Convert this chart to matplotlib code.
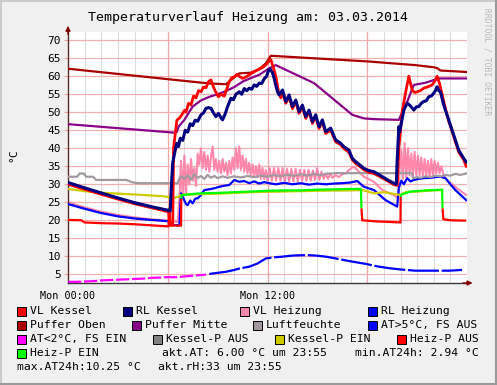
import numpy as np
import matplotlib
matplotlib.use('Agg')
import matplotlib.pyplot as plt
from matplotlib.patches import Rectangle
from matplotlib.lines import Line2D

plt.rcParams['font.family'] = ['DejaVu Sans Mono', 'DejaVu Sans']

# ---------------- data (time in hours since Mon 00:00) ----------------
vlk_t = [0, 1, 2, 3, 4, 5, 6.0, 6.05, 6.15, 6.3, 6.35, 6.45, 6.55, 6.7, 6.85, 7.0, 7.1, 7.25, 7.4,
         7.55, 7.7, 7.85, 8.0, 8.15, 8.3, 8.45, 8.6, 8.75, 8.9, 9.05, 9.2, 9.4, 9.55, 9.7, 9.85,
         10.0, 10.15, 10.3, 10.5, 10.7, 10.9, 11.1, 11.3, 11.5, 11.7, 11.9, 12.05, 12.2, 12.35,
         12.5, 12.65, 12.8, 12.9, 13.1, 13.3, 13.5, 13.7, 13.9, 14.1, 14.3, 14.5, 14.7, 14.9,
         15.1, 15.3, 15.5, 15.8, 16.1, 16.4, 16.6, 16.9, 17.1, 17.3, 17.6, 17.8, 18.1, 18.4,
         18.8, 19.2, 19.6, 19.8, 19.9, 20.0, 20.1, 20.3, 20.5, 20.6, 20.7, 20.85, 21.0, 21.2,
         21.4, 21.6, 21.9, 22.05, 22.2, 22.35, 22.5, 22.7, 22.9, 23.2, 23.5, 23.8, 23.95]
vlk_v = [30.0, 28.6, 27.2, 25.9, 24.6, 23.5, 22.4, 22.3, 18.6, 18.6, 40.0, 44.0, 47.8, 48.4, 49.3,
         50.5, 50.0, 52.5, 52.0, 54.5, 54.0, 56.0, 55.7, 57.0, 56.8, 58.5, 59.0, 57.0, 55.5, 54.3,
         55.0, 54.5, 56.5, 58.5, 59.6, 59.8, 60.5, 60.0, 59.4, 59.8, 60.4, 61.0, 61.5, 62.0,
         62.4, 63.2, 64.0, 64.6, 62.5, 60.0, 56.0, 54.0, 55.6, 52.5, 54.3, 51.0, 52.9, 49.7,
         51.5, 48.3, 50.1, 46.9, 48.8, 45.5, 47.4, 44.1, 45.0, 41.8, 41.0, 39.9, 38.9, 36.8,
         35.8, 34.8, 34.0, 33.3, 33.0, 32.0, 31.0, 29.9, 29.7, 40.0, 45.0, 50.2, 55.3, 60.0,
         58.1, 56.2, 55.5, 55.7, 56.0, 56.7, 57.0, 57.6, 58.5, 60.0, 58.0, 55.0, 51.0, 47.5,
         43.3, 39.0, 36.8, 35.0]

rlk_t = [0, 1, 2, 3, 4, 5, 6.0, 6.15, 6.2, 6.3, 6.45, 6.55, 6.65, 6.75, 6.9, 7.05, 7.2, 7.35, 7.5,
         7.65, 7.8, 8.0, 8.15, 8.3, 8.45, 8.6, 8.75, 8.9, 9.05, 9.2, 9.3, 9.45, 9.6, 9.8, 9.95,
         10.1, 10.3, 10.45, 10.6, 10.75, 10.9, 11.05, 11.2, 11.35, 11.5, 11.65, 11.8, 11.95,
         12.05, 12.15, 12.3, 12.4, 12.5, 12.6, 12.7, 12.9, 13.1, 13.3, 13.5, 13.7, 13.9, 14.1,
         14.3, 14.5, 14.7, 14.9, 15.1, 15.3, 15.5, 15.8, 16.1, 16.4, 16.6, 16.9, 17.1, 17.3,
         17.6, 17.8, 18.1, 18.4, 18.8, 19.2, 19.6, 19.75, 19.8, 19.9, 19.95, 20.05, 20.2, 20.4,
         20.55, 20.8, 20.95, 21.1, 21.25, 21.4, 21.55, 21.7, 21.85, 22.0, 22.1, 22.2, 22.3,
         22.4, 22.6, 22.9, 23.2, 23.5, 23.8, 23.95]
rlk_v = [30.5, 29.0, 27.6, 26.2, 24.9, 23.8, 22.8, 22.6, 28.0, 36.0, 39.5, 41.4, 40.5, 42.8, 42.2,
         45.0, 44.5, 46.8, 46.3, 47.8, 47.5, 49.3, 49.8, 51.1, 51.3, 51.1, 49.8, 48.8, 49.7,
         48.5, 47.9, 49.5, 51.6, 53.9, 53.5, 55.0, 55.7, 55.0, 56.6, 56.0, 56.7, 56.4, 57.6,
         57.2, 58.1, 58.0, 59.3, 60.0, 61.5, 62.0, 61.0, 59.4, 57.5, 55.7, 54.8, 56.2, 53.0,
         54.8, 51.6, 53.4, 50.2, 52.0, 48.8, 50.6, 47.4, 49.3, 46.0, 47.9, 44.6, 45.6, 42.3,
         41.4, 40.4, 39.5, 37.2, 36.3, 35.2, 34.4, 33.8, 33.5, 32.4, 31.3, 30.3, 30.0, 36.8,
         46.0, 44.6, 47.0, 50.6, 52.5, 52.0, 50.6, 51.5, 51.6, 52.5, 53.0, 53.2, 54.3, 54.5,
         55.3, 56.0, 57.1, 56.0, 55.7, 52.0, 47.9, 43.7, 39.5, 37.2, 36.2]

vlh_t = [0, 1, 2, 3, 4, 5, 6.0, 6.6, 6.7, 6.8, 6.9, 7.0, 7.1, 7.2, 7.3, 7.4, 7.5, 7.6, 7.7, 7.8,
         7.9, 8.0, 8.1, 8.2, 8.3, 8.4, 8.5, 8.6, 8.7, 8.8, 8.9, 9.0, 9.1, 9.2, 9.3, 9.4, 9.5,
         9.6, 9.7, 9.8, 9.9, 10.0, 10.1, 10.2, 10.3, 10.4, 10.5, 10.6, 10.7, 10.8, 10.9, 11.0,
         11.1, 11.2, 11.3, 11.4, 11.5, 11.6, 11.7, 11.8, 11.9, 12.0, 12.13, 12.26, 12.39, 12.52,
         12.65, 12.78, 12.91, 13.04, 13.17, 13.3, 13.43, 13.56, 13.69, 13.82, 13.95, 14.08,
         14.21, 14.34, 14.47, 14.6, 14.73, 14.86, 14.99, 15.12, 15.25, 15.38, 15.51, 15.64,
         15.77, 15.9, 16.1, 16.3, 16.5, 16.7, 16.9, 17.2, 17.6, 17.8, 18.4, 18.9, 19.6, 19.85,
         19.95, 20.05, 20.15, 20.25, 20.35, 20.45, 20.55, 20.65, 20.75, 20.85, 20.95, 21.05,
         21.15, 21.25, 21.35, 21.45, 21.55, 21.65, 21.75, 21.85, 21.95, 22.05, 22.15, 22.25,
         22.35, 22.45, 22.6, 22.8, 23.1, 23.4, 23.95]
vlh_v = [25.0, 23.6, 22.4, 21.5, 20.8, 20.3, 19.9, 19.5, 26.0, 36.5, 26.0, 38.0, 27.5, 35.5, 30.0,
         37.0, 31.0, 34.5, 29.5, 38.5, 35.5, 40.0, 34.5, 39.0, 34.0, 38.0, 33.5, 37.5, 40.5,
         34.0, 37.0, 33.5, 36.5, 33.0, 37.0, 33.5, 36.0, 32.5, 36.5, 33.0, 37.5, 34.0, 40.0,
         34.5, 40.5, 34.0, 38.0, 33.5, 37.0, 33.0, 36.0, 32.5, 35.5, 32.0, 35.0, 32.0, 35.5,
         31.5, 34.5, 31.5, 34.0, 31.0, 34.5, 31.0, 34.5, 31.0, 34.5, 31.0, 34.5, 30.8, 34.3,
         30.8, 34.3, 30.8, 34.3, 30.8, 34.0, 31.0, 34.0, 31.0, 34.0, 31.0, 33.8, 31.2, 34.5,
         31.2, 33.5, 31.5, 33.0, 31.5, 33.0, 31.8, 32.5, 32.0, 32.8, 33.0, 34.0, 34.9, 33.0,
         32.1, 30.7, 28.4, 27.0, 26.1, 34.0, 39.5, 31.5, 41.5, 32.0, 40.0, 32.5, 38.5, 32.0,
         39.0, 32.5, 38.0, 32.5, 37.5, 32.0, 37.0, 32.5, 36.5, 32.0, 37.0, 32.5, 36.5, 33.0,
         36.0, 33.0, 35.0, 32.5, 31.2, 30.0, 28.9, 27.0]

rlh_t = [0, 1, 2, 3, 4, 5, 5.9, 6.15, 6.25, 6.7, 6.8, 6.95, 7.1, 7.2, 7.35, 7.5, 7.65, 7.8, 8.0,
         8.2, 8.5, 8.8, 9.1, 9.4, 9.7, 10.0, 10.3, 10.6, 10.9, 11.2, 11.5, 11.8, 12.1, 12.5,
         13.0, 13.5, 14.0, 14.5, 15.0, 15.5, 16.0, 16.5, 17.0, 17.4, 17.8, 18.4, 19.1, 19.8,
         19.9, 20.05, 20.2, 20.4, 20.6, 20.8, 21.1, 21.4, 21.8, 22.1, 22.4, 22.7, 23.0, 23.3,
         23.95]
rlh_v = [24.5, 23.2, 22.0, 21.1, 20.5, 20.1, 19.8, 19.6, 18.7, 18.6, 27.5, 26.0, 24.5, 24.2, 25.5,
         24.7, 26.0, 26.1, 27.0, 28.4, 28.6, 28.9, 29.3, 29.6, 29.8, 31.2, 30.7, 30.9, 30.3,
         30.8, 30.2, 30.6, 30.3, 30.0, 30.4, 30.0, 30.3, 29.9, 30.2, 30.0, 30.2, 30.3, 30.5,
         30.9, 29.3, 28.4, 25.6, 23.8, 29.0, 31.0, 30.0, 31.7, 30.8, 31.2, 31.5, 31.7, 31.8,
         32.0, 32.1, 31.7, 30.0, 28.4, 25.6]

po_t = [0, 8.5, 9.5, 10.3, 11.0, 11.5, 11.9, 12.2, 18.1, 20.9, 22.0, 22.2, 22.4, 23.95]
po_v = [62.1, 58.0, 57.8, 60.8, 61.0, 62.0, 63.6, 65.7, 64.1, 63.1, 62.5, 62.3, 61.6, 61.2]

pm_t = [0, 6.5, 6.55, 6.65, 7.0, 7.5, 8.0, 8.5, 9.0, 9.4, 10.0, 10.5, 11.0, 11.5, 12.1, 12.5,
        14.8, 17.1, 17.8, 18.4, 19.9, 20.4, 20.8, 21.5, 22.3, 23.95]
pm_v = [46.7, 44.3, 44.6, 46.0, 47.9, 51.6, 53.3, 54.3, 55.0, 55.7, 57.0, 58.5, 59.5, 60.4,
        62.2, 63.1, 58.1, 49.3, 48.3, 48.1, 47.9, 52.9, 57.6, 58.2, 59.4, 59.4]

rh_t = [0, 0.55, 0.7, 0.95, 1.1, 1.5, 1.7, 3.5, 3.9, 4.3, 6.6, 6.7, 6.8, 7.0, 7.2, 7.4, 7.6, 7.8,
        8.0, 8.2, 8.4, 8.6, 8.8, 9.0, 9.3, 9.6, 10.0, 10.4, 10.8, 11.2, 11.6, 12.0, 12.4, 12.8,
        13.2, 13.6, 14.0, 14.4, 14.8, 15.2, 15.6, 16.0, 16.05, 20.7, 20.75, 21.0, 21.2, 21.5,
        21.8, 22.1, 22.4, 22.7, 23.0, 23.3, 23.6, 23.95]
rh_v = [32.1, 32.1, 33.0, 33.0, 32.1, 32.1, 31.2, 31.2, 30.5, 30.3, 30.3, 31.7, 32.3, 31.5, 32.5,
        31.3, 32.8, 31.8, 32.3, 31.5, 32.6, 31.8, 32.3, 31.7, 32.2, 31.8, 32.2, 31.9, 32.3,
        32.0, 32.4, 32.1, 32.6, 32.2, 32.7, 32.3, 32.8, 32.4, 32.9, 32.5, 33.0, 33.0, 33.1,
        33.1, 31.7, 32.0, 31.8, 32.2, 32.0, 32.4, 32.2, 32.6, 32.4, 32.9, 32.6, 33.0]

kp_t = [0, 1, 1.9, 3, 3.9, 5, 5.9, 6.3, 6.6, 6.8, 7.5, 9, 11, 13, 15, 17, 17.7, 18.4, 19, 20.0,
        20.3, 21, 22, 22.5]
kp_v = [28.7, 28.1, 27.7, 27.4, 27.2, 26.9, 26.6, 26.1, 26.5, 27.0, 27.2, 27.4, 27.8, 28.0, 28.2,
        28.3, 28.4, 27.5, 27.8, 27.0, 27.8, 28.0, 28.3, 28.4]

hp_t = [0, 0.8, 1.0, 2, 3, 4, 5, 6.05, 6.06, 6.12, 6.13, 6.8, 6.81, 6.85, 7.5, 8, 9, 10, 11, 12,
        13, 14, 15, 16, 17, 17.62, 17.65, 17.7, 18.5, 20.0, 20.01, 20.05, 20.3, 20.6, 21.0,
        21.5, 22.0, 22.5, 22.53, 22.58, 23.0, 23.95]
hp_v = [20.1, 20.0, 19.4, 19.2, 19.1, 18.9, 18.6, 18.3, 22.4, 23.6, 18.6, 18.5, 26.0, 27.0, 27.3,
        27.5, 27.6, 27.8, 28.0, 28.2, 28.3, 28.3, 28.5, 28.6, 28.7, 28.7, 23.3, 20.0, 19.7,
        19.4, 26.5, 27.2, 27.5, 28.0, 28.1, 28.3, 28.4, 28.5, 23.3, 20.3, 20.0, 19.9]
hp_on = [0, 0, 0, 0, 0, 0, 0, 0, 1, 0, 0, 0, 1, 1, 1, 1, 1, 1, 1, 1, 1, 1, 1, 1, 1, 1, 0, 0, 0,
         0, 1, 1, 1, 1, 1, 1, 1, 1, 0, 0, 0, 0]

at_t = [0, 0.5, 1, 1.5, 2, 2.5, 3, 3.5, 4, 4.5, 5, 5.5, 6, 6.5, 7, 7.5, 8, 8.3,
        8.5, 9.0, 9.5, 10.0, 10.3, 10.9, 11.4, 11.9, 12.4, 12.9, 13.5, 14.1, 14.5, 14.9, 15.5,
        16.1, 17.0, 17.9, 18.6, 19.3, 20.1, 20.9, 21.5, 22.1, 22.9, 23.7]
at_v = [2.9, 2.9, 3.0, 3.1, 3.3, 3.4, 3.5, 3.6, 3.7, 3.8, 4.0, 4.1, 4.2, 4.2, 4.4, 4.6, 4.8, 4.9,
        5.1, 5.4, 5.7, 6.2, 6.6, 7.1, 8.0, 9.4, 9.7, 9.9, 10.2, 10.3, 10.3, 10.2, 9.9,
        9.4, 8.6, 7.9, 7.2, 6.7, 6.3, 6.0, 6.0, 6.0, 6.0, 6.2]
at_cold = [1] * 18 + [0] * 26

y_ticks = list(range(5, 71, 5))
x_tick_pos = [0, 12]
x_tick_lab = ['Mon 00:00', 'Mon 12:00']
title = 'Temperaturverlauf Heizung am: 03.03.2014'

legend_rows = [
    [(17, 'VL Kessel', '#ff0000'), (123, 'RL Kessel', '#000080'),
     (240, 'VL Heizung', '#ff88aa'), (368, 'RL Heizung', '#0000ff')],
    [(17, 'Puffer Oben', '#aa0000'), (132, 'Puffer Mitte', '#880088'),
     (253, 'Luftfeuchte', '#a0969e'), (368, 'AT>5°C, FS AUS', '#0000ff')],
    [(17, 'AT<2°C, FS EIN', '#ff00ff'), (153, 'Kessel-P AUS', '#808080'),
     (275, 'Kessel-P EIN', '#cccc00'), (397, 'Heiz-P AUS', '#ff0000')],
    [(17, 'Heiz-P EIN', '#00ff00'), (162, 'akt.AT: 6.00 °C um 23:55', None),
     (355, 'min.AT24h: 2.94 °C', None)],
    [(17, 'max.AT24h:10.25 °C', None), (158, 'akt.rH:33 um 23:55', None)],
]
row_y = [311, 325, 339, 353, 367]

# ---------------- figure ----------------
W, H = 497, 385
fig = plt.figure(figsize=(W / 100, H / 100), dpi=100, facecolor='#f0f0f0')


def fx(px):
    return px / W


def fy(py):
    return 1 - py / H


ax = fig.add_axes([fx(68), fy(283), 399 / W, (283 - 32) / H])
ax.set_facecolor('white')
ax.set_xlim(0, 24)
ax.set_ylim(2.58, 72.3)

for h in range(1, 24):
    if h % 6:
        ax.axvline(h, color='#dcdcdc', lw=0.8, zorder=0)
for h in (6, 12, 18):
    ax.axvline(h, color='#f0a4a4', lw=0.9, zorder=0.5)
for yv in y_ticks:
    ax.axhline(yv, color='#f2b0b0', lw=0.9, zorder=0.5)

ax.set_yticks(y_ticks)
ax.set_yticklabels([str(v) for v in y_ticks])
ax.set_xticks(x_tick_pos)
ax.set_xticklabels(x_tick_lab)
ax.tick_params(axis='y', length=3, color='#f0a4a4', labelsize=8, pad=2)
ax.tick_params(axis='x', length=0, labelsize=7.3, pad=6)
for s in ('top', 'right'):
    ax.spines[s].set_visible(False)
ax.spines['left'].set_color('#5a2a2a')
ax.spines['bottom'].set_color('#3a3a3a')
ax.spines['left'].set_linewidth(1)
ax.spines['bottom'].set_linewidth(1)

# arrows
ax.annotate('', xy=(0, 1.025), xytext=(0, 0.99), xycoords='axes fraction',
            arrowprops=dict(arrowstyle='-|>', color='#7f0000', lw=1, mutation_scale=7,
                            shrinkA=0, shrinkB=0), annotation_clip=False)
ax.annotate('', xy=(1.014, 0), xytext=(0.99, 0), xycoords='axes fraction',
            arrowprops=dict(arrowstyle='-|>', color='#7f0000', lw=1, mutation_scale=7,
                            shrinkA=0, shrinkB=0), annotation_clip=False)


def plot_state(t, v, state, c_on, c_off, lw, z, ls_on='-', ls_off='-'):
    t = np.asarray(t, float)
    v = np.asarray(v, float)
    i = 0
    n = len(t)
    while i < n - 1:
        s = state[i]
        j = i
        while j < n - 1 and state[j] == s:
            j += 1
        ax.plot(t[i:j + 1], v[i:j + 1], color=c_on if s else c_off, lw=lw, zorder=z,
                ls=ls_on if s else ls_off, solid_capstyle='butt')
        i = j


ax.plot(vlh_t, vlh_v, color='#ff88aa', lw=1.5, zorder=2)
ax.plot(rlh_t, rlh_v, color='#0000ff', lw=1.6, zorder=3)
ax.plot(rh_t, rh_v, color='#a09aa0', lw=1.6, zorder=4)
ax.plot(kp_t, kp_v, color='#cccc00', lw=1.6, zorder=5)
plot_state(hp_t, hp_v, hp_on, '#00ff00', '#ff0000', 1.6, 6)
at_t_a = np.asarray(at_t)
at_v_a = np.asarray(at_v)
cold = np.asarray(at_cold) == 1
ax.plot(at_t_a[cold], at_v_a[cold], color='#ff00ff', lw=1.6, zorder=6,
        ls=(0, (6, 1.2)))
warm = ~cold
ax.plot(at_t_a[warm], at_v_a[warm], color='#0000ff', lw=1.6, zorder=6,
        ls=(0, (14, 1.2)))
ax.plot(po_t, po_v, color='#aa0000', lw=1.6, zorder=7)
ax.plot(pm_t, pm_v, color='#880088', lw=1.6, zorder=7)
ax.plot(vlk_t, vlk_v, color='#ff0000', lw=2.0, zorder=8)
ax.plot(rlk_t, rlk_v, color='#000080', lw=2.2, zorder=9)

# texts
fig.text(fx(248), fy(17), title, ha='center', va='center', fontsize=9.5)
fig.text(fx(13), fy(155), '°C', rotation=90, ha='center', va='center', fontsize=8.2)
fig.text(fx(487), fy(8), 'RRDTOOL / TOBI OETIKER', rotation=-90, ha='center', va='top',
         fontsize=5.8, color='#b8b8b8')

for row, yc in zip(legend_rows, row_y):
    for x0, label, col in row:
        if col is None:
            fig.text(fx(x0), fy(yc), label, ha='left', va='center', fontsize=8.2)
        else:
            fig.patches.append(Rectangle((fx(x0), fy(yc + 4.5)), 9 / W, 9 / H,
                                         transform=fig.transFigure, facecolor=col,
                                         edgecolor='black', lw=0.7))
            fig.text(fx(x0 + 13), fy(yc), label, ha='left', va='center', fontsize=8.2)

# frame shading
fig.add_artist(Line2D([0, 1], [1 - 1 / H, 1 - 1 / H], transform=fig.transFigure,
                      color='#cbcbcb', lw=1.5))
fig.add_artist(Line2D([1 / W, 1 / W], [0, 1], transform=fig.transFigure,
                      color='#cbcbcb', lw=1.5))
fig.add_artist(Line2D([0, 1], [1 / H, 1 / H], transform=fig.transFigure,
                      color='#999999', lw=1.5))
fig.add_artist(Line2D([1 - 1 / W, 1 - 1 / W], [0, 1], transform=fig.transFigure,
                      color='#999999', lw=1.5))

fig.savefig('out.png', dpi=100, facecolor=fig.get_facecolor())
